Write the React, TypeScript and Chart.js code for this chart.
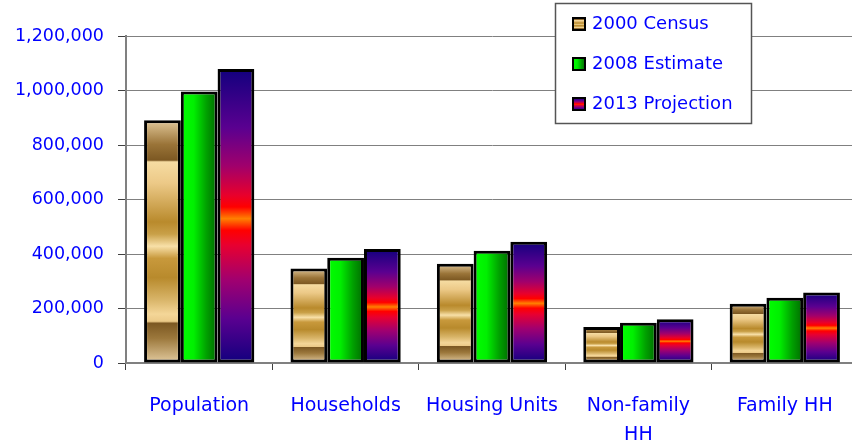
import React, { useEffect, useRef } from 'react';
import { Chart, registerables } from 'chart.js';

Chart.register(...registerables);

const categories: (string | string[])[] = ['Population', 'Households', 'Housing Units', ['Non-family', 'HH'], 'Family HH'];
const seriesLabels = ['2000 Census', '2008 Estimate', '2013 Projection'];
const census2000 = [891000, 347000, 364000, 132000, 217000];
const estimate2008 = [996000, 386000, 412000, 148000, 239000];
const projection2013 = [1079000, 418000, 445000, 161000, 259000];
const yMax = 1200000;
const yStep = 200000;

const FONT = "'DejaVu Sans', 'Noto Sans', sans-serif";
const BLUE = '#0000ff';

type Stop = [number, string];
const censusStops: Stop[] = [
  [0, '#e2c89a'], [0.1, '#9a7438'], [0.165, '#7c5822'], [0.172, '#f6dca2'], [0.26, '#ecc987'],
  [0.42, '#b98a2c'], [0.47, '#c9a048'], [0.52, '#f8e0a8'], [0.57, '#c8993c'], [0.65, '#b88a2c'],
  [0.74, '#d8b468'], [0.8, '#f4d698'], [0.83, '#ecca88'], [0.838, '#7c5822'], [0.9, '#9c783c'], [1, '#e2ca9e'],
];
const estimateStops: Stop[] = [[0, '#00ff00'], [0.35, '#00f000'], [0.7, '#00a000'], [1, '#006a00']];
const projectionStops: Stop[] = [
  [0, '#12007e'], [0.2, '#5a0090'], [0.33, '#a0006c'], [0.43, '#e8002c'], [0.47, '#ff0000'],
  [0.51, '#ff8000'], [0.55, '#ff0000'], [0.6, '#e80030'], [0.72, '#a00070'], [0.85, '#5a0090'], [1, '#12007e'],
];
const fallbacks = ['#c9a04a', '#00c000', '#b00060'];

function makeGrad(ctx: CanvasRenderingContext2D, x0: number, y0: number, x1: number, y1: number, stops: Stop[]) {
  const g = ctx.createLinearGradient(x0, y0, x1, y1);
  stops.forEach(([o, c]) => g.addColorStop(o, c));
  return g;
}

function barFill(kind: number) {
  return (c: any) => {
    const el = c.element;
    if (c.type !== 'data' || !el || el.x == null || el.base == null || !isFinite(el.x)) return fallbacks[kind];
    const ctx = c.chart.ctx as CanvasRenderingContext2D;
    if (kind === 1) {
      const w = el.width || 36;
      return makeGrad(ctx, el.x - w / 2, 0, el.x + w / 2, 0, estimateStops);
    }
    return makeGrad(ctx, 0, el.y, 0, el.base, kind === 0 ? censusStops : projectionStops);
  };
}

const legendPlugin = {
  id: 'boxLegend',
  afterDraw(chart: any) {
    const ctx = chart.ctx as CanvasRenderingContext2D;
    ctx.save();
    const bx = 555, by = 3, bw = 196, bh = 120;
    ctx.fillStyle = '#ffffff';
    ctx.fillRect(bx, by, bw, bh);
    ctx.strokeStyle = '#555555';
    ctx.lineWidth = 1.5;
    ctx.strokeRect(bx + 0.5, by + 0.5, bw, bh);
    const centers = [24, 64, 104];
    const stops = [censusStops, estimateStops, projectionStops];
    seriesLabels.forEach((lab, i) => {
      const cy = centers[i];
      const sx = 573, sy = cy - 6, s = 12;
      ctx.fillStyle = i === 1 ? makeGrad(ctx, sx, 0, sx + s, 0, stops[i]) : makeGrad(ctx, 0, sy, 0, sy + s, stops[i]);
      ctx.fillRect(sx, sy, s, s);
      ctx.strokeStyle = '#000000';
      ctx.lineWidth = 2;
      ctx.strokeRect(sx, sy, s, s);
      ctx.fillStyle = BLUE;
      ctx.font = `18px ${FONT}`;
      ctx.textBaseline = 'middle';
      ctx.textAlign = 'left';
      ctx.fillText(lab, 592, cy);
    });
    ctx.restore();
  },
};

export default function App() {
  const ref = useRef<HTMLCanvasElement>(null);
  useEffect(() => {
    if (!ref.current) return;
    const chart = new Chart(ref.current, {
      type: 'bar',
      data: {
        labels: categories as any,
        datasets: [
          { label: seriesLabels[0], data: census2000, backgroundColor: barFill(0) as any },
          { label: seriesLabels[1], data: estimate2008, backgroundColor: barFill(1) as any },
          { label: seriesLabels[2], data: projection2013, backgroundColor: barFill(2) as any },
        ].map((d) => ({ ...d, borderColor: '#000000', borderWidth: 3, borderSkipped: false as any, categoryPercentage: 0.753, barPercentage: 1 })),
      },
      options: {
        responsive: false,
        animation: false,
        events: [],
        layout: { padding: { top: 36, left: 0, right: 0, bottom: 0 } },
        plugins: { legend: { display: false }, tooltip: { enabled: false } },
        scales: {
          x: {
            offset: true,
            grid: { drawOnChartArea: false, drawTicks: true, tickLength: 7, tickColor: '#404040', offset: true },
            border: { color: '#808080', width: 2 },
            ticks: { color: BLUE, font: { family: FONT, size: 19, lineHeight: 1.55 }, padding: 21, maxRotation: 0, autoSkip: false },
            afterFit: (s: any) => { s.height = 83; },
          },
          y: {
            min: 0,
            max: yMax,
            grid: { color: '#808080', lineWidth: 1, tickLength: 8, tickColor: '#404040' },
            border: { color: '#808080', width: 2 },
            ticks: {
              stepSize: yStep,
              color: BLUE,
              font: { family: FONT, size: 17.5 },
              padding: 14,
              callback: (v: any) => Number(v).toLocaleString('en-US'),
            },
            afterFit: (s: any) => { s.width = 126; },
          },
        },
      },
      plugins: [legendPlugin],
    });
    chart.update();
    return () => chart.destroy();
  }, []);
  return (
    <div style={{ position: 'fixed', left: 0, top: 0, width: 852, height: 446, overflow: 'hidden', background: '#fff' }}>
      <canvas ref={ref} width={858} height={446} style={{ width: 858, height: 446, display: 'block' }} />
    </div>
  );
}
